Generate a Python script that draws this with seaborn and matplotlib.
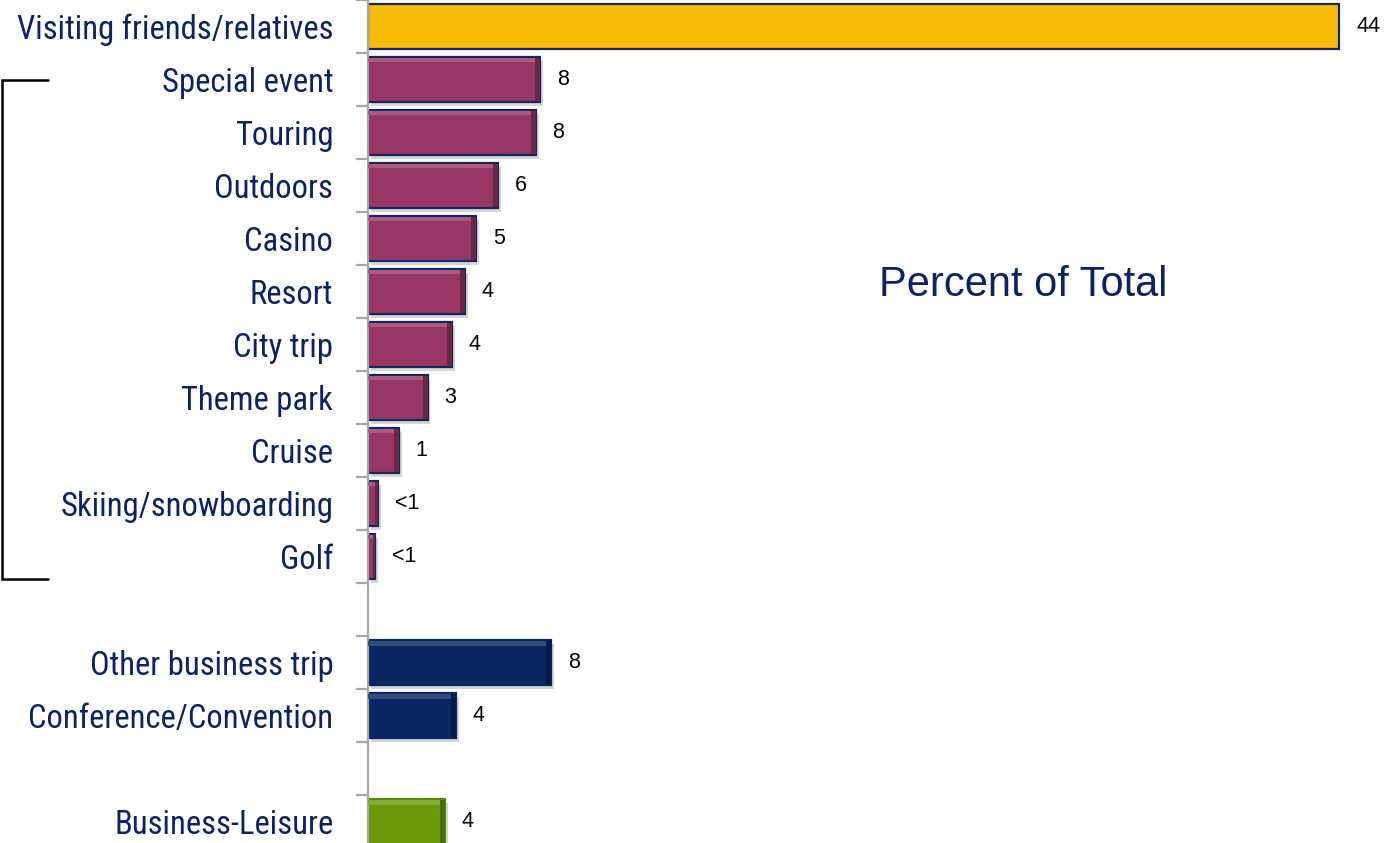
import matplotlib
matplotlib.use("Agg")
import matplotlib.pyplot as plt
import matplotlib.patheffects as pe
import matplotlib.transforms as mtransforms
from matplotlib.patches import Rectangle
from matplotlib.colors import to_rgb
import seaborn as sns
import pandas as pd
import numpy as np

# ---- data -------------------------------------------------------------
categories = [
    "Visiting friends/relatives", "Special event", "Touring", "Outdoors",
    "Casino", "Resort", "City trip", "Theme park", "Cruise",
    "Skiing/snowboarding", "Golf",
    "Other business trip", "Conference/Convention",
    "Business-Leisure",
]
values = [44, 7.8, 7.6, 5.9, 4.9, 4.4, 3.8, 2.7, 1.4, 0.45, 0.32, 8.3, 4.0, 3.5]
groups = ["VFR"] + ["Leisure"] * 10 + ["Business"] * 2 + ["Bleisure"]
# row order on the axis, blank rows separate the groups
row_order = categories[:11] + [" "] + categories[11:13] + ["  "] + categories[13:]

palette = {"VFR": "#F8BC08", "Leisure": "#983766",
           "Business": "#0A2562", "Bleisure": "#6A9A0A"}
edges = {"VFR": "#14275E", "Leisure": "#14275E",
         "Business": "#0A2562", "Bleisure": "#5A860A"}

navy = "#0B2366"

df = pd.DataFrame({"category": categories, "value": values, "group": groups})

# ---- figure -----------------------------------------------------------
sns.set_theme(style="white")
plt.rcParams["font.family"] = ["Liberation Sans", "DejaVu Sans"]

fig = plt.figure(figsize=(13.99, 8.43), dpi=100)
ax = fig.add_axes([368 / 1399, 0.0, 1 - 368 / 1399, 1.0])

bar_w = 0.85
sns.barplot(data=df, y="category", x="value", hue="group", order=row_order,
            palette=palette, saturation=1, dodge=False, width=bar_w,
            legend=False, orient="h", ax=ax, linewidth=1.6,
            edgecolor=edges["Leisure"])

ax.set_xlim(0, 46.7)
ax.set_ylim(15.4, -0.5)

def shade(c, f):
    r, g, b = to_rgb(c)
    if f >= 0:
        return (r + (1 - r) * f, g + (1 - g) * f, b + (1 - b) * f)
    return (r * (1 + f), g * (1 + f), b * (1 + f))

pos = {c: row_order.index(c) for c in categories}
px = ax.transData.transform((1, 0))[0] - ax.transData.transform((0, 0))[0]

# bevel highlight / shade and soft shadow on each bar
for cat, val, grp in zip(categories, values, groups):
    y0 = pos[cat] - bar_w / 2
    patch = None
    for p in ax.patches:
        if abs(p.get_y() - y0) < 1e-6 and p.get_width() > 0:
            patch = p
    if patch is None:
        continue
    patch.set_edgecolor(edges[grp])
    if grp == "VFR":
        continue
    base = palette[grp]
    patch.set_path_effects([pe.SimplePatchShadow(offset=(2, -3), alpha=0.18),
                            pe.Normal()])
    rim = min(5 / px, val * 0.3)
    ax.add_patch(Rectangle((0, y0 + 0.02), val, 0.08,
                           facecolor=shade(base, 0.18), edgecolor="none", zorder=3))
    ax.add_patch(Rectangle((val - rim, y0 + 0.02), rim, bar_w - 0.04,
                           facecolor=shade(base, -0.3), edgecolor="none", zorder=3))

# value labels
for cat, val in zip(categories, values):
    lab = "<1" if val < 1 else f"{val:.0f}"
    ax.annotate(lab, xy=(val, pos[cat]), xytext=(12, 0),
                textcoords="offset points", ha="left", va="center",
                fontsize=15.5, color="black")

# axis styling
for s in ["top", "right", "bottom"]:
    ax.spines[s].set_visible(False)
ax.spines["left"].set_color("#A6A6A6")
ax.spines["left"].set_linewidth(1.6)
ax.xaxis.set_visible(False)

ax.set_yticks([pos[c] for c in categories])
ax.set_yticklabels(categories)
ax.set_yticks(np.arange(-0.5, 15.5, 1.0), minor=True)
ax.tick_params(axis="y", which="major", left=True, length=0, pad=25,
               labelsize=23.5, labelcolor=navy)
ax.tick_params(axis="y", which="minor", left=True, length=8.5, width=1.6,
               color="#A6A6A6", direction="out")
for t in ax.get_yticklabels():
    t.set_family(["Roboto Condensed", "Liberation Sans", "DejaVu Sans"])
ax.set_ylabel("")
ax.set_xlabel("")

fig.text(1023 / 1399, 1 - 285 / 843, "Percent of Total", ha="center",
         va="center", fontsize=30, color=navy)

# bracket grouping the leisure activities
trans = mtransforms.blended_transform_factory(fig.transFigure, ax.transData)
top = pos["Special event"]
bottom = pos["Golf"] + bar_w / 2
x_end = 48 / 1399
x_v = 1.5 / 1399
ax.plot([x_end, x_v, x_v, x_end], [top, top, bottom, bottom],
        transform=trans, color="black", lw=1.8, clip_on=False,
        solid_joinstyle="miter")

fig.savefig("out.png", dpi=100)
